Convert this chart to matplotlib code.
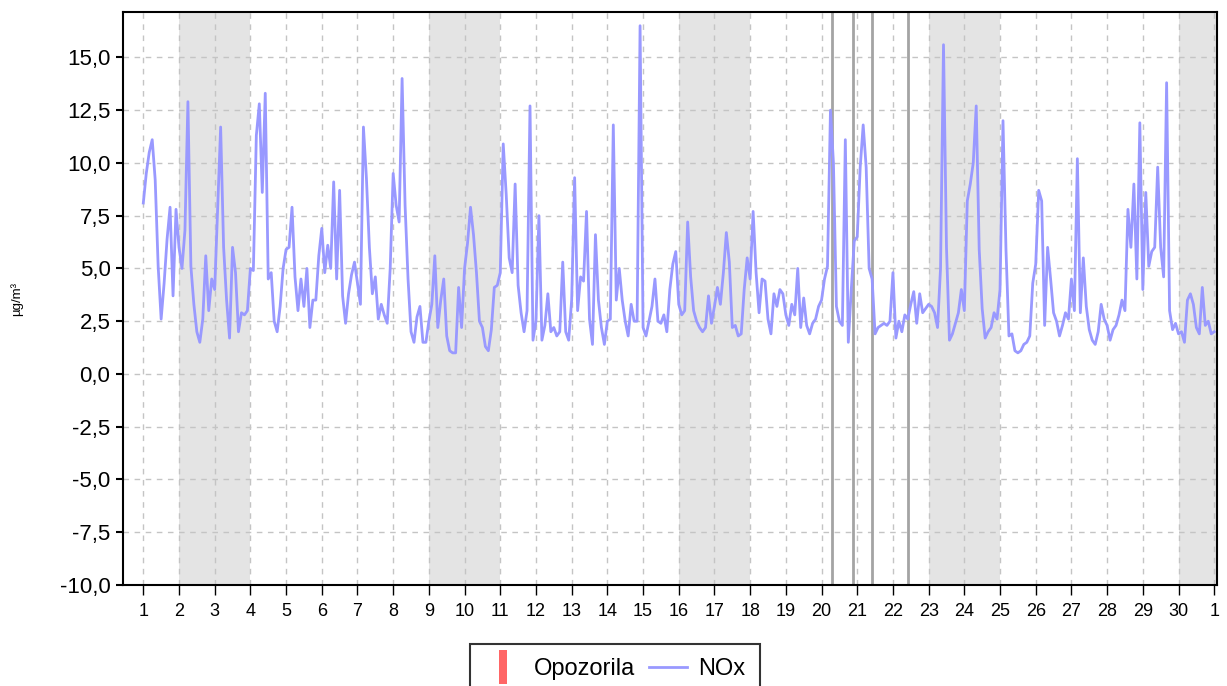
import numpy as np
import matplotlib
matplotlib.use("Agg")
import matplotlib.pyplot as plt
from matplotlib.lines import Line2D
from matplotlib.path import Path

plt.rcParams['font.family'] = ['Liberation Sans', 'DejaVu Sans']

# NOx, 2-hourly readings (12 per day), days 1-30 (+ final point at next month day 1)
nox_d01_05 = [8.1, 9.5, 10.5, 11.1, 9.2, 5.1, 2.6, 4.3, 6.4, 7.9, 3.7, 7.8,
              6.0, 5.0, 6.8, 12.9, 5.1, 3.3, 2.0, 1.5, 2.6, 5.6, 3.0, 4.5,
              4.0, 7.9, 11.7, 6.0, 3.5, 1.7, 6.0, 4.8, 2.0, 2.9, 2.8, 3.0,
              5.0, 4.9, 11.3, 12.8, 8.6, 13.3, 4.5, 4.8, 2.5, 2.0, 3.2, 5.0,
              5.9, 6.0, 7.9, 4.6, 3.0, 4.5, 3.2, 5.0, 2.2, 3.5, 3.5, 5.6]
nox_d06_10 = [6.9, 4.8, 6.1, 5.0, 9.1, 4.5, 8.7, 3.7, 2.4, 3.8, 4.7, 5.3,
              4.3, 3.3, 11.7, 9.3, 6.0, 3.8, 4.6, 2.6, 3.3, 2.8, 2.4, 5.0,
              9.5, 8.0, 7.2, 14.0, 8.0, 4.5, 2.0, 1.5, 2.7, 3.2, 1.5, 1.5,
              2.5, 3.3, 5.6, 2.2, 3.5, 4.5, 1.8, 1.1, 1.0, 1.0, 4.1, 2.2,
              5.0, 6.2, 7.9, 6.6, 4.8, 2.5, 2.2, 1.3, 1.1, 2.1, 4.1, 4.2]
nox_d11_15 = [4.8, 10.9, 8.5, 5.5, 4.8, 9.0, 4.2, 2.9, 2.0, 3.0, 12.7, 1.6,
              2.5, 7.5, 1.6, 2.3, 3.8, 2.0, 2.2, 1.8, 2.0, 5.3, 2.0, 1.6,
              3.5, 9.3, 3.0, 4.6, 4.4, 7.7, 2.6, 1.4, 6.6, 3.5, 2.2, 1.4,
              2.5, 2.6, 11.8, 3.5, 5.0, 3.5, 2.5, 1.8, 3.3, 2.5, 2.5, 16.5,
              2.2, 1.8, 2.5, 3.2, 4.5, 2.5, 2.4, 2.8, 2.0, 4.0, 5.2, 5.8]
nox_d16_20 = [3.3, 2.8, 3.0, 7.2, 4.6, 3.0, 2.5, 2.2, 2.0, 2.2, 3.7, 2.4,
              3.2, 4.1, 3.3, 4.8, 6.7, 5.3, 2.2, 2.3, 1.8, 1.9, 4.0, 5.5,
              4.5, 7.7, 4.8, 2.9, 4.5, 4.4, 2.6, 1.9, 3.8, 3.2, 4.0, 3.8,
              2.8, 2.3, 3.3, 2.8, 5.0, 2.2, 3.6, 2.3, 1.9, 2.4, 2.6, 3.2,
              3.5, 4.5, 5.1, 12.5, 10.0, 3.2, 2.5, 2.3, 11.1, 1.5, 4.0, 6.3]
nox_d21_25 = [6.5, 9.8, 11.8, 9.8, 5.0, 4.5, 1.9, 2.2, 2.3, 2.4, 2.3, 2.5,
              4.8, 1.7, 2.5, 2.0, 2.8, 2.6, 3.3, 3.9, 2.4, 3.8, 2.9, 3.1,
              3.3, 3.2, 2.9, 2.2, 5.0, 15.6, 6.0, 1.6, 1.9, 2.4, 2.9, 4.0,
              3.0, 8.2, 9.0, 10.0, 12.7, 5.9, 3.1, 1.7, 2.0, 2.2, 2.9, 2.6,
              4.0, 12.0, 5.9, 1.8, 1.9, 1.1, 1.0, 1.1, 1.4, 1.5, 1.8, 4.3]
nox_d26_31 = [5.2, 8.7, 8.2, 2.3, 6.0, 4.5, 2.9, 2.5, 1.8, 2.3, 2.9, 2.6,
              4.5, 3.0, 10.2, 2.9, 5.5, 3.2, 2.1, 1.6, 1.4, 2.0, 3.3, 2.6,
              2.3, 1.6, 2.1, 2.3, 2.8, 3.5, 3.0, 7.8, 6.0, 9.0, 4.5, 11.9,
              4.0, 8.6, 5.1, 5.8, 6.0, 9.8, 6.0, 4.6, 13.8, 3.0, 2.1, 2.4,
              1.9, 2.0, 1.5, 3.5, 3.8, 3.3, 2.2, 1.9, 4.1, 2.3, 2.5, 1.9,
              2.0]

weekend_starts = [2, 9, 16, 23, 30]
weekend_ends = [4, 11, 18, 25, 31.2]
gap_markers = [20.30, 20.88, 21.40, 22.43]
day_ticks = list(range(1, 32))
day_labels = [str(d) for d in range(1, 31)] + ['1']
y_ticks = [-10, -7.5, -5, -2.5, 0, 2.5, 5, 7.5, 10, 12.5, 15]

nox = np.array(nox_d01_05 + nox_d06_10 + nox_d11_15 + nox_d16_20 + nox_d21_25 + nox_d26_31)
t = 1 + np.arange(len(nox)) / 12.0

fig = plt.figure(figsize=(12.27, 6.86), dpi=100)
ax = fig.add_axes([0.1002, 0.1472, 0.8917, 0.8353])

for a, b in zip(weekend_starts, weekend_ends):
    ax.axvspan(a, b, color='#e4e4e4', lw=0, zorder=0)
for g in gap_markers:
    ax.axvline(g, color='#a4a4a4', lw=2, zorder=1.5)

ax.plot(t, nox, color='#9999ff', lw=2, zorder=2)

ax.set_xlim(0.43, 31.08)
ax.set_ylim(-10, 17.15)
ax.set_xticks(day_ticks)
ax.set_xticklabels(day_labels)
ax.set_yticks(y_ticks)
ax.set_yticklabels([f"{v:.1f}".replace('.', ',') for v in y_ticks])
ax.tick_params(axis='x', labelsize=13, length=7, width=1, pad=6, direction='out')
ax.tick_params(axis='y', labelsize=16, length=5, width=1.5, pad=4, direction='out')
ax.set_axisbelow(True)
ax.grid(True, ls=(0, (4, 4)), color='#c4c4c4', lw=1)
for s in ax.spines.values():
    s.set_linewidth(1.5)
    s.set_color('black')
ax.set_ylabel('µg/m³', fontsize=9.5, labelpad=26)

bar = Path([(-0.12, -0.5), (0.12, -0.5), (0.12, 0.5), (-0.12, 0.5), (-0.12, -0.5)])
h_warn = Line2D([], [], ls='none', marker=bar, markersize=24, color='#ff6666', markeredgewidth=0)
h_nox = Line2D([], [], color='#9999ff', lw=2)
leg = fig.legend([h_warn, h_nox], ['Opozorila', 'NOx'], loc='upper center',
                 bbox_to_anchor=(0.501, 0.079), ncol=2, fontsize=17, frameon=True,
                 fancybox=False, edgecolor='black', handlelength=1.6, columnspacing=0.6,
                 handletextpad=0.5, borderpad=0.6)
leg.get_frame().set_linewidth(1.5)

fig.savefig('out.png', dpi=100)
